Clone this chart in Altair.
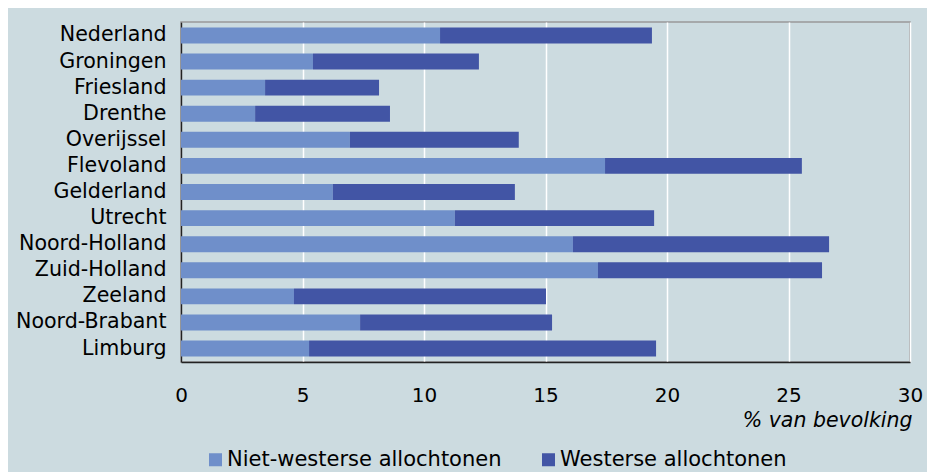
import altair as alt
import pandas as pd

provinces = ["Nederland", "Groningen", "Friesland", "Drenthe", "Overijssel", "Flevoland",
             "Gelderland", "Utrecht", "Noord-Holland", "Zuid-Holland", "Zeeland",
             "Noord-Brabant", "Limburg"]
niet_westers = [10.66, 5.43, 3.46, 3.05, 6.95, 17.45, 6.25, 11.27, 16.13, 17.16, 4.65, 7.37, 5.27]
westers = [8.72, 6.83, 4.69, 5.55, 6.95, 8.10, 7.49, 8.20, 10.54, 9.22, 10.37, 7.90, 14.28]
series = ["Niet-westerse allochtonen", "Westerse allochtonen"]
colors = ["#6F8FCA", "#4255A5"]
x_ticks = [0, 5, 10, 15, 20, 25, 30]

rows = []
for p, a, b in zip(provinces, niet_westers, westers):
    rows.append({"provincie": p, "groep": series[0], "waarde": a, "volgorde": 0})
    rows.append({"provincie": p, "groep": series[1], "waarde": b, "volgorde": 1})
df = pd.DataFrame(rows)

FONT = "DejaVu Sans"

chart = alt.Chart(df).mark_bar().encode(
    y=alt.Y("provincie:N", sort=provinces,
            scale=alt.Scale(paddingInner=0.39, paddingOuter=0.21),
            axis=alt.Axis(title=None, ticks=False, labelPadding=15, labelFont=FONT,
                          labelFontSize=20.6, labelColor="#000000", domainColor="#222222",
                          domainWidth=1.5, grid=False, labelLimit=300)),
    x=alt.X("waarde:Q", stack="zero",
            scale=alt.Scale(domain=[0, 30], nice=False),
            axis=alt.Axis(values=x_ticks, title="% van bevolking", ticks=False,
                          labelPadding=23, labelFont=FONT, labelFontSize=20,
                          labelFlush=False, labelOverlap=False,
                          labelColor="#000000", domainColor="#222222", domainWidth=1.5,
                          grid=True, gridColor="#FFFFFF", gridWidth=1.5,
                          titleFont=FONT, titleFontSize=20.5, titleFontStyle="italic",
                          titleFontWeight="normal", titleColor="#000000",
                          titleAnchor="end", titleAlign="right", titleBaseline="middle",
                          titleX=731, titleY=58)),
    color=alt.Color("groep:N",
                    scale=alt.Scale(domain=series, range=colors),
                    legend=alt.Legend(title=None, orient="none", direction="horizontal",
                                      legendX=24, legendY=427, symbolType="square",
                                      symbolSize=169, symbolStrokeWidth=0,
                                      labelFont=FONT, labelFontSize=21,
                                      labelColor="#000000", labelOffset=1,
                                      columnPadding=36, labelLimit=400)),
    order=alt.Order("volgorde:Q"),
).properties(
    width=729,
    height=340,
    background="#CCDBE0",
    padding={"left": 173, "top": 14, "right": 17, "bottom": 110},
    autosize=alt.AutoSizeParams(type="none"),
).configure_view(
    stroke="#999999", strokeWidth=1.5
)

chart.save("out.html", embed_options={"renderer": "svg", "actions": False})
